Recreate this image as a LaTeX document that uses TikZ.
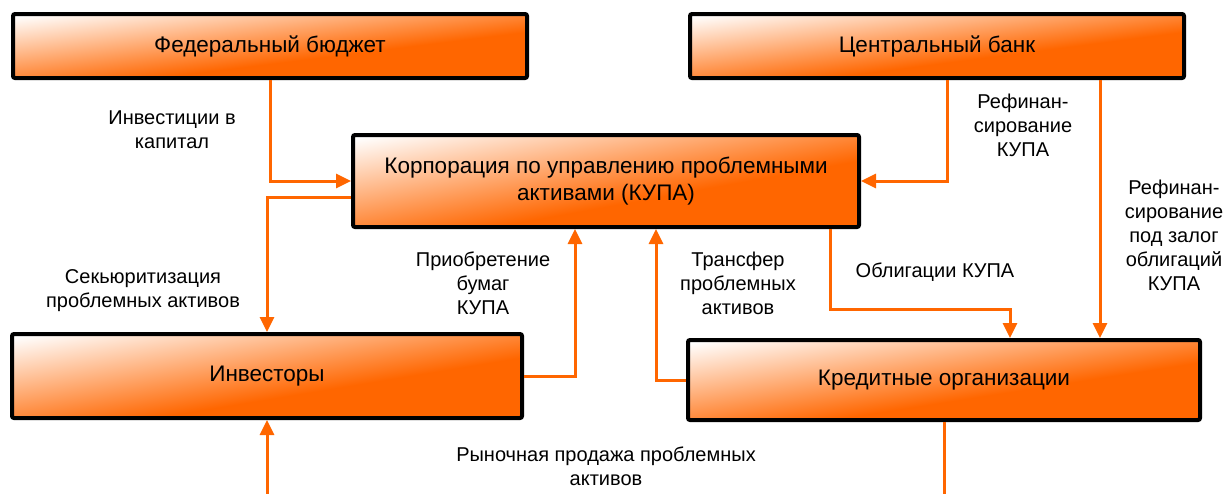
\documentclass[tikz,border=0pt]{standalone}
\usepackage{fontspec}
\setmainfont{Liberation Sans}
\usetikzlibrary{arrows.meta}
\definecolor{orng}{HTML}{FF6600}
\pgfdeclarefunctionalshading{boxshade}{\pgfpointorigin}{\pgfpoint{100bp}{100bp}}{}{%
  sub 50 add 100 div 0.02 sub 0.62 div
  dup 0 lt {pop 0} if dup 1 gt {pop 1} if
  dup 0.6 mul 1 exch sub exch 1 exch sub 1 3 1 roll
}
\tikzset{
  box/.style={draw=black, line width=4pt, rounded corners=2pt, shading=boxshade,
    font=\fontsize{22.5}{27}\selectfont, align=center, inner sep=0pt},
  arr/.style={draw=orng, line width=3pt, -{Triangle[length=15pt,width=14pt]}},
  lbl/.style={font=\fontsize{20}{24}\selectfont, align=center, inner sep=0pt, text=black}
}
\begin{document}
\begin{tikzpicture}[x=1pt,y=-1pt]
\useasboundingbox (0,0) rectangle (1224,493);
\clip (0,0) rectangle (1224,493);
% boxes
\node[box, minimum width=514pt, minimum height=64pt] (fb) at (270,46) {Федеральный бюджет};
\node[box, minimum width=494pt, minimum height=64pt] (cb) at (937,46) {Центральный банк};
\node[box, minimum width=506pt, minimum height=92pt] (kupa) at (606,181) {Корпорация по управлению проблемными\\активами (КУПА)};
\node[box, minimum width=510pt, minimum height=84pt] (inv) at (267,376) {Инвесторы};
\node[box, minimum width=512pt, minimum height=80pt] (ko) at (944,380) {Кредитные организации};
% connector points
\coordinate (kuw2) at ([yshift=-16pt]kupa.west);
\coordinate (kus1) at ([xshift=-31pt]kupa.south);
\coordinate (kus2) at ([xshift=50pt]kupa.south);
\coordinate (kus3) at ([xshift=224pt]kupa.south);
\coordinate (cbs1) at ([xshift=10pt]cb.south);
\coordinate (cbs2) at ([xshift=163pt]cb.south);
\coordinate (kon1) at ([xshift=66pt]ko.north);
% connectors
\draw[arr] (fb.south) |- (kupa.west);
\draw[arr] (kuw2) -| (inv.north);
\draw[arr] (inv.east) -| (kus1);
\draw[arr] (ko.west) -| (kus2);
\draw[arr] (cbs1) |- (kupa.east);
\draw[arr] (kus3) -- ++(0,80) -| (kon1);
\draw[arr] (cbs2) -- (cbs2 |- ko.north);
\draw[arr] (ko.south) -- ++(0,120) -| (inv.south);
% labels
\node[lbl] (l1) at (172,130) {Инвестиции в\\капитал};
\node[lbl] (l2) at (143,291) {Секьюритизация\\проблемных активов};
\node[lbl] (l3) at (483,283) {Приобретение\\бумаг\\КУПА};
\node[lbl] (l4) at (738,283) {Трансфер\\проблемных\\активов};
\node[lbl] (l5) at (935,272) {Облигации КУПА};
\node[lbl] (l6) at (1023,125) {Рефинан-\\сирование\\КУПА};
\node[lbl] (l7) at (1174,235) {Рефинан-\\сирование\\под залог\\облигаций\\КУПА};
\node[lbl] (l8) at (606,466) {Рыночная продажа проблемных\\активов};
\end{tikzpicture}
\end{document}
